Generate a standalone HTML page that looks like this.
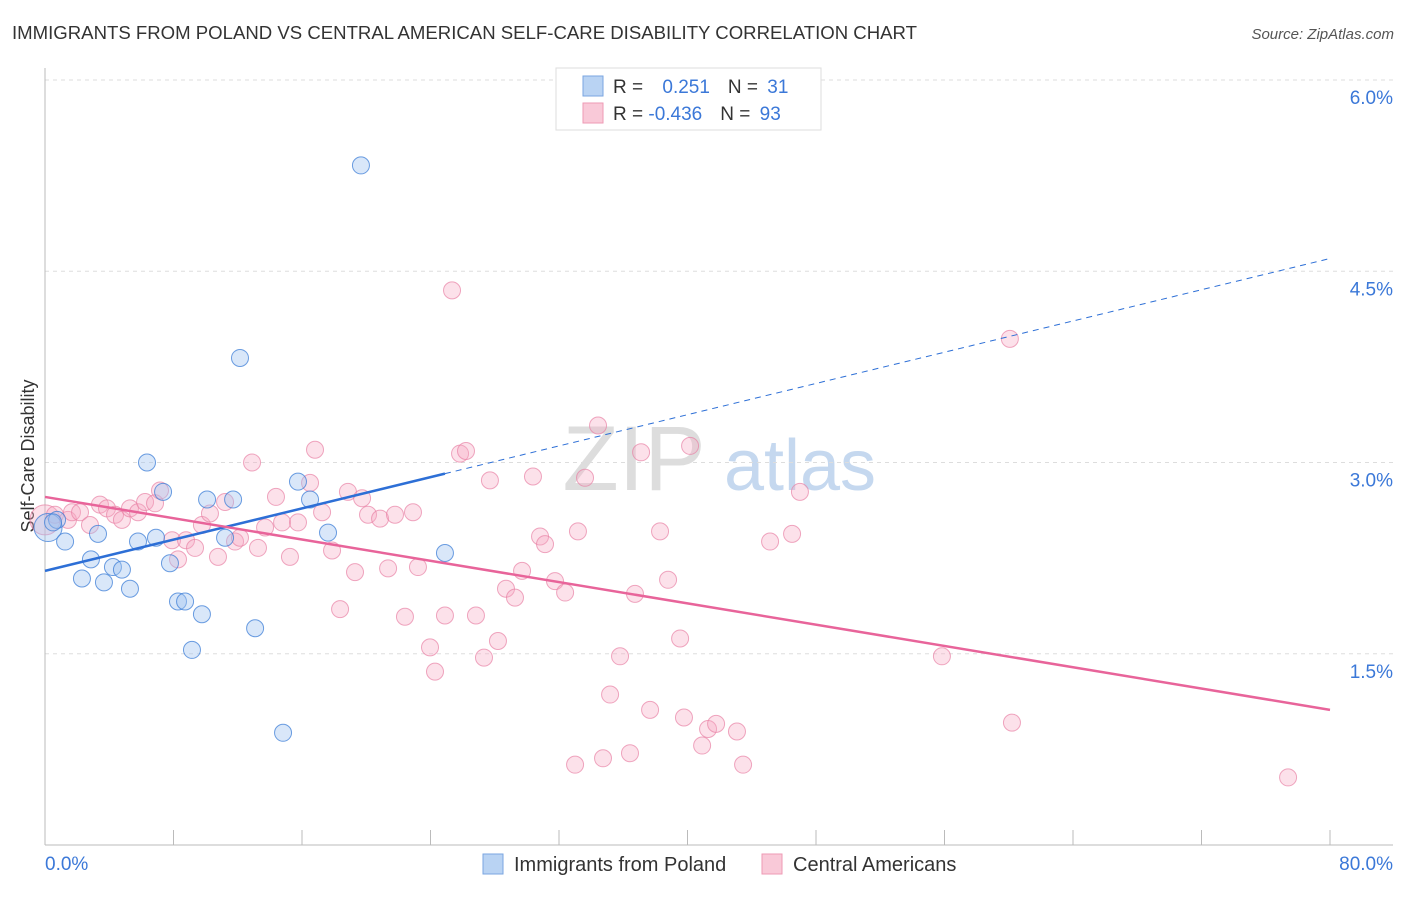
<!DOCTYPE html>
<html><head><meta charset="utf-8"><style>
body{margin:0;background:#fff;font-family:"Liberation Sans",sans-serif}
svg text{font-family:"Liberation Sans",sans-serif}
</style></head><body>
<svg id="c" width="1406" height="892">
<text x="12" y="39" font-size="18" fill="#333" textLength="905" lengthAdjust="spacingAndGlyphs">IMMIGRANTS FROM POLAND VS CENTRAL AMERICAN SELF-CARE DISABILITY CORRELATION CHART</text>
<text x="1394" y="39" font-size="15" fill="#555" font-style="italic" text-anchor="end">Source: ZipAtlas.com</text>
<text x="634" y="490" font-size="92" fill="#ddd" font-family="Liberation Serif" text-anchor="middle">ZIP</text>
<text x="800" y="490" font-size="72" fill="#c5d8ef" text-anchor="middle">atlas</text>
<text transform="translate(34,456) rotate(-90)" font-size="18" fill="#333" text-anchor="middle">Self-Care Disability</text>
<g id="grid"></g><g id="pts"></g><g id="lines"></g>
<g>
<rect x="556" y="68" width="265" height="62" fill="#fff" stroke="#ddd"/>
<rect x="583" y="76" width="20" height="20" fill="#b9d3f3" stroke="#7aa6e0"/>
<rect x="583" y="103" width="20" height="20" fill="#f9c9d8" stroke="#ee9ab4"/>
<text x="613" y="93" font-size="19" fill="#333">R = <tspan fill="#3b78d8" dx="14">0.251</tspan><tspan dx="18" fill="#333">N = </tspan><tspan fill="#3b78d8" dx="4">31</tspan></text>
<text x="613" y="120" font-size="19" fill="#333">R = <tspan fill="#3b78d8">-0.436</tspan><tspan dx="18" fill="#333">N = </tspan><tspan fill="#3b78d8" dx="4">93</tspan></text>
</g>
<g>
<rect x="483" y="854" width="20" height="20" fill="#b9d3f3" stroke="#7aa6e0"/>
<text x="514" y="871" font-size="20" fill="#333">Immigrants from Poland</text>
<rect x="762" y="854" width="20" height="20" fill="#f9c9d8" stroke="#ee9ab4"/>
<text x="793" y="871" font-size="20" fill="#333">Central Americans</text>
</g>
</svg>
<script>
const yTicks=[1.5,3.0,4.5,6.0];
const xTickLabels=["0.0%","80.0%"];
const blueX=[0.19,0.75,1.25,3.30,2.86,2.30,3.67,4.23,4.79,5.29,5.79,6.35,6.91,7.35,7.78,8.28,8.72,9.15,9.77,10.09,11.21,11.71,12.14,13.08,14.82,15.75,16.50,17.62,19.67,24.90,0.50];
const blueY=[2.49,2.55,2.38,2.44,2.24,2.09,2.06,2.18,2.16,2.01,2.38,3.00,2.41,2.77,2.21,1.91,1.91,1.53,1.81,2.71,2.41,2.71,3.82,1.70,0.88,2.85,2.71,2.45,5.33,2.29,2.53];
const pinkX=[0.0,0.62,1.43,1.68,2.18,2.80,3.42,3.86,4.36,4.79,5.29,5.79,6.23,6.85,7.16,7.91,8.28,8.78,9.34,9.77,10.27,10.77,11.21,11.83,12.14,12.89,13.26,13.70,14.38,14.76,15.25,15.75,16.50,16.81,17.25,17.87,18.37,18.86,19.30,19.74,20.11,20.86,21.36,21.79,22.41,22.91,23.22,23.97,24.28,24.90,25.34,25.84,26.21,26.83,27.33,27.70,28.20,28.70,29.26,29.70,30.38,30.82,31.13,31.75,32.38,33.00,33.18,33.62,34.43,34.74,35.18,35.80,36.42,36.73,37.11,37.67,38.29,38.79,39.54,40.16,39.78,40.91,41.28,41.78,43.08,43.46,45.14,46.51,47.00,55.84,60.07,60.20,77.39];
const pinkY=[2.55,2.59,2.55,2.61,2.61,2.51,2.67,2.64,2.59,2.55,2.64,2.61,2.69,2.68,2.78,2.39,2.24,2.39,2.33,2.51,2.60,2.26,2.69,2.38,2.41,3.00,2.33,2.49,2.73,2.53,2.26,2.53,2.84,3.10,2.61,2.31,1.85,2.77,2.14,2.72,2.59,2.56,2.17,2.59,1.79,2.61,2.18,1.55,1.36,1.80,4.35,3.07,3.09,1.80,1.47,2.86,1.60,2.01,1.94,2.15,2.89,2.42,2.36,2.07,1.98,0.63,2.46,2.88,3.29,0.68,1.18,1.48,0.72,1.97,3.08,1.06,2.46,2.08,1.62,3.13,1.00,0.78,0.91,0.95,0.89,0.63,2.38,2.44,2.77,1.48,3.97,0.96,0.53];
const blueTrend=[2.15,4.60]; const blueSolidEnd=24.9;
const pinkTrend=[2.73,1.06];
const NS="http://www.w3.org/2000/svg";
const X=v=>45+v/80*1285, Y=v=>845-v*127.5;
function mk(tag,at,p){const e=document.createElementNS(NS,tag);for(const k in at)e.setAttribute(k,at[k]);p.appendChild(e);return e;}
const g=document.getElementById('grid');
yTicks.forEach(t=>{
 const l=mk('line',{x1:45,x2:1393,y1:Y(t),y2:Y(t),stroke:'#ddd','stroke-dasharray':'4,4'},g);
 
 
 const tx=mk('text',{x:1393,y:Y(t)+24,'font-size':19,fill:'#3b78d8','text-anchor':'end'},g);tx.textContent=t.toFixed(1)+'%';
 
 
});
mk('line',{x1:45,x2:45,y1:68,y2:845,stroke:'#bbb'},g);
mk('line',{x1:45,x2:1393,y1:845,y2:845,stroke:'#bbb'},g);
for(let i=0;i<=10;i++){const t=mk('line',{x1:X(i*8),x2:X(i*8),y1:830,y2:845,stroke:'#bbb'},g);
 
 }
const l0=mk('text',{x:45,y:870,'font-size':19,fill:'#3b78d8'},g);l0.textContent=xTickLabels[0];


const l1=mk('text',{x:1393,y:870,'font-size':19,fill:'#3b78d8','text-anchor':'end'},g);l1.textContent=xTickLabels[1];


const P=document.getElementById('pts');
pinkX.forEach((x,i)=>{const c=mk('circle',{cx:X(x),cy:Y(pinkY[i]),r:i==0?15:8.5,fill:'rgba(246,170,195,0.35)',stroke:'rgba(232,130,165,0.7)','stroke-width':1},P);
 
 });
blueX.forEach((x,i)=>{const c=mk('circle',{cx:X(x),cy:Y(blueY[i]),r:i==0?14:8.5,fill:'rgba(160,195,240,0.4)',stroke:'rgba(60,125,215,0.75)','stroke-width':1},P);
 
 });
const L=document.getElementById('lines');
const by=x=>blueTrend[0]+(blueTrend[1]-blueTrend[0])*x/80;
const b1=mk('line',{x1:X(0),y1:Y(by(0)),x2:X(blueSolidEnd),y2:Y(by(blueSolidEnd)),stroke:'#2d6fd6','stroke-width':2.5},L);


const b2=mk('line',{x1:X(blueSolidEnd),y1:Y(by(blueSolidEnd)),x2:X(80),y2:Y(by(80)),stroke:'#2d6fd6','stroke-width':1,'stroke-dasharray':'6,5'},L);


const p1=mk('line',{x1:X(0),y1:Y(pinkTrend[0]),x2:X(80),y2:Y(pinkTrend[1]),stroke:'#e8649a','stroke-width':2.5},L);


</script>
</body></html>
